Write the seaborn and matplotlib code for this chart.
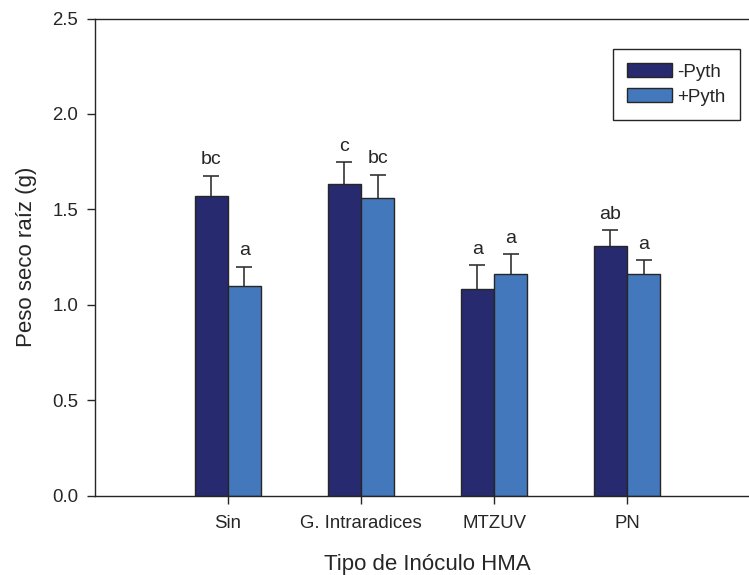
import numpy as np
import pandas as pd
import matplotlib
matplotlib.use("Agg")
import matplotlib.pyplot as plt
import seaborn as sns

# Root dry weight by AMF inoculum type, with and without Pythium
inoculos = ["Sin", "G. Intraradices", "MTZUV", "PN"]
tratamientos = ["-Pyth", "+Pyth"]
media_sin_pyth = [1.57, 1.63, 1.08, 1.31]
media_con_pyth = [1.10, 1.56, 1.16, 1.16]
ee_sin_pyth = [0.105, 0.118, 0.127, 0.080]
ee_con_pyth = [0.098, 0.122, 0.105, 0.073]
letras_sin_pyth = ["bc", "c", "a", "ab"]
letras_con_pyth = ["a", "bc", "a", "a"]

df = pd.DataFrame({
    "Inoculo": inoculos * 2,
    "Tratamiento": [tratamientos[0]] * 4 + [tratamientos[1]] * 4,
    "Peso": media_sin_pyth + media_con_pyth,
})

sns.set_style("ticks")
plt.rcParams["font.family"] = ["Liberation Sans", "DejaVu Sans"]

fig = plt.figure(figsize=(7.49, 5.75), dpi=100)
ax = fig.add_axes([94.7 / 749, 79.5 / 575, 665.5 / 749, 477.0 / 575])

colores = ["#272A6E", "#4478BC"]
sns.barplot(data=df, x="Inoculo", y="Peso", hue="Tratamiento",
            order=inoculos, hue_order=tratamientos, palette=colores,
            width=0.5, errorbar=None, edgecolor="#262626", linewidth=1.0,
            saturation=1, ax=ax)

medias = [media_sin_pyth, media_con_pyth]
errores = [ee_sin_pyth, ee_con_pyth]
letras = [letras_sin_pyth, letras_con_pyth]
for cont, m, e, l in zip(ax.containers, medias, errores, letras):
    xs = [p.get_x() + p.get_width() / 2 for p in cont.patches]
    eb = ax.errorbar(xs, m, yerr=[np.zeros(len(e)), e], fmt="none",
                     ecolor="#333333", elinewidth=1.2, capsize=5.6,
                     capthick=1.2, zorder=3)
    # only the upper cap is shown; the lower one sits on the bar top
    for cap in eb[1]:
        if np.allclose(cap.get_ydata(), m):
            cap.set_visible(False)
    for x, y, err, txt in zip(xs, m, e, l):
        ax.annotate(txt, (x, y + err), xytext=(0, 11.5),
                    textcoords="offset points", ha="center", va="center",
                    fontsize=14, color="#262626")

ax.set_xlim(-1, 4)
ax.set_ylim(0, 2.5)
ax.set_yticks(np.arange(0, 2.51, 0.5))
ax.set_yticklabels([f"{v:.1f}" for v in np.arange(0, 2.51, 0.5)])

ax.set_xlabel("Tipo de Inóculo HMA", fontsize=16, labelpad=16, color="#262626")
ax.set_ylabel("Peso seco raíz (g)", fontsize=16, labelpad=11, color="#262626")
ax.tick_params(axis="both", direction="out", length=5.8, width=1.0,
               labelsize=13.4, pad=6, color="#262626", labelcolor="#262626")
ax.tick_params(axis="x", pad=8)

for side in ["left", "top", "bottom"]:
    ax.spines[side].set_color("#262626")
    ax.spines[side].set_linewidth(1.0)
ax.spines["right"].set_visible(False)

handles, labels = ax.get_legend_handles_labels()
ax.legend(handles, labels, loc="upper right",
          bbox_to_anchor=(740 / 749, 1 - 49.3 / 575),
          bbox_transform=fig.transFigure, borderaxespad=0,
          fontsize=13.5, frameon=True, fancybox=False, framealpha=1,
          edgecolor="#262626", handlelength=2.4, handleheight=0.75,
          handletextpad=0.3, labelspacing=0.4, borderpad=0.75,
          title=None)
ax.get_legend().get_frame().set_linewidth(1.0)

fig.savefig("out.png", dpi=100)
